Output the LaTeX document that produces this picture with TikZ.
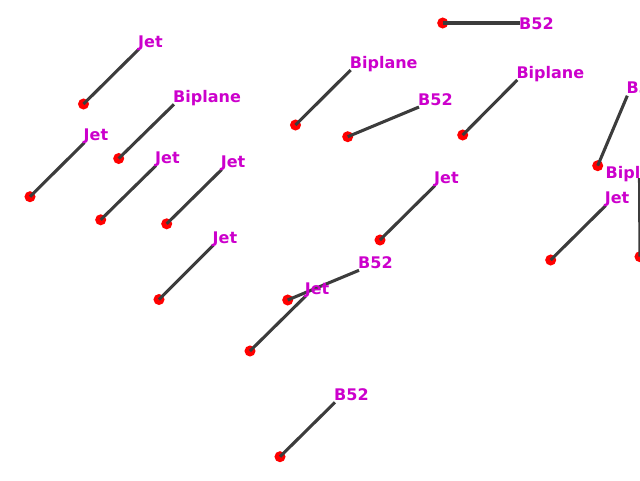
\documentclass[tikz,border=0pt]{standalone}
\usepackage{fontspec}
\setmainfont{DejaVu Sans}
\usepackage{tikz}
\usetikzlibrary{positioning}
\usepackage{xcolor}
\definecolor{trackgray}{HTML}{3C3C3C}
\definecolor{dotred}{HTML}{FF0000}
\definecolor{planemagenta}{HTML}{CC00CC}

\begin{document}
\begin{tikzpicture}[
    x=0.75pt, y=-0.75pt,
    dot/.style={circle, fill=dotred, draw=none, minimum size=8.3pt, inner sep=0pt},
    track/.style={draw=trackgray, line width=2.3pt},
    plane/.style={anchor=base west, inner sep=0pt, xshift=-0.8pt, yshift=1.5pt, text=planemagenta, font=\fontsize{12}{14}\selectfont\bfseries}
]

\useasboundingbox (0,0) rectangle (640,480);
\clip (0,0) rectangle (640,480);

% ---- Start points ----
\node[dot] (jetA) at (83.5,104) {};
\node[dot] (biplaneA) at (118.7,158.5) {};
\node[dot] (jetB) at (30,196.7) {};
\node[dot] (jetC) at (100.7,219.8) {};
\node[dot] (jetD) at (166.7,223.8) {};
\node[dot] (jetE) at (159,299.5) {};
\node[dot] (biplaneB) at (295.5,125) {};
\node[dot] (bombA) at (347.7,136.7) {};
\node[dot] (bombB) at (442.7,23) {};
\node[dot] (biplaneC) at (462.7,135) {};
\node[dot] (bombC) at (597.7,165.7) {};
\node[dot] (jetF) at (380,240) {};
\node[dot] (biplaneD) at (640,256.7) {};
\node[dot] (jetG) at (550.7,260) {};
\node[dot] (bombD) at (287.7,300) {};
\node[dot] (jetH) at (250,351) {};
\node[dot] (bombE) at (280,456.7) {};

% ---- End points ----
\coordinate (jetAend) at (139,49);
\coordinate (biplaneAend) at (174,104.3);
\coordinate (jetBend) at (84.5,142.5);
\coordinate (jetCend) at (156,165.5);
\coordinate (jetDend) at (221.7,169.5);
\coordinate (jetEend) at (213.5,245);
\coordinate (biplaneBend) at (350.7,70);
\coordinate (bombAend) at (419,107);
\coordinate (bombBend) at (520,23);
\coordinate (biplaneCend) at (517.3,80);
\coordinate (bombCend) at (627.3,95.7);
\coordinate (jetFend) at (435,185.5);
\coordinate (biplaneDend) at (639.5,178);
\coordinate (jetGend) at (605.7,205.5);
\coordinate (bombDend) at (359,270.3);
\coordinate (jetHend) at (305.7,296);
\coordinate (bombEend) at (335,402.3);

% ---- Tracks ----
\draw[track] (jetA.center) -- (jetAend);
\draw[track] (biplaneA.center) -- (biplaneAend);
\draw[track] (jetB.center) -- (jetBend);
\draw[track] (jetC.center) -- (jetCend);
\draw[track] (jetD.center) -- (jetDend);
\draw[track] (jetE.center) -- (jetEend);
\draw[track] (biplaneB.center) -- (biplaneBend);
\draw[track] (bombA.center) -- (bombAend);
\draw[track] (bombB.center) -- (bombBend);
\draw[track] (biplaneC.center) -- (biplaneCend);
\draw[track] (bombC.center) -- (bombCend);
\draw[track] (jetF.center) -- (jetFend);
\draw[track] (biplaneD.center) -- (biplaneDend);
\draw[track] (jetG.center) -- (jetGend);
\draw[track] (bombD.center) -- (bombDend);
\draw[track] (jetH.center) -- (jetHend);
\draw[track] (bombE.center) -- (bombEend);

% ---- Labels ----
\node[plane] (jetAlabel) at (jetAend) {Jet};
\node[plane] (biplaneAlabel) at (biplaneAend) {Biplane};
\node[plane] (jetBlabel) at (jetBend) {Jet};
\node[plane] (jetClabel) at (jetCend) {Jet};
\node[plane] (jetDlabel) at (jetDend) {Jet};
\node[plane] (jetElabel) at (jetEend) {Jet};
\node[plane] (biplaneBlabel) at (biplaneBend) {Biplane};
\node[plane] (bombAlabel) at (bombAend) {B52};
\node[plane, anchor=west, yshift=-1.8pt] (bombBlabel) at (bombBend) {B52};
\node[plane] (biplaneClabel) at (biplaneCend) {Biplane};
\node[plane] (bombClabel) at (bombCend) {B52};
\node[plane] (jetFlabel) at (jetFend) {Jet};
\node[plane, yshift=-1.5pt] (biplaneDlabel) at (606.5,178) {Biplane};
\node[plane] (jetGlabel) at (jetGend) {Jet};
\node[plane] (bombDlabel) at (bombDend) {B52};
\node[plane] (jetHlabel) at (jetHend) {Jet};
\node[plane] (bombElabel) at (bombEend) {B52};

\end{tikzpicture}
\end{document}
